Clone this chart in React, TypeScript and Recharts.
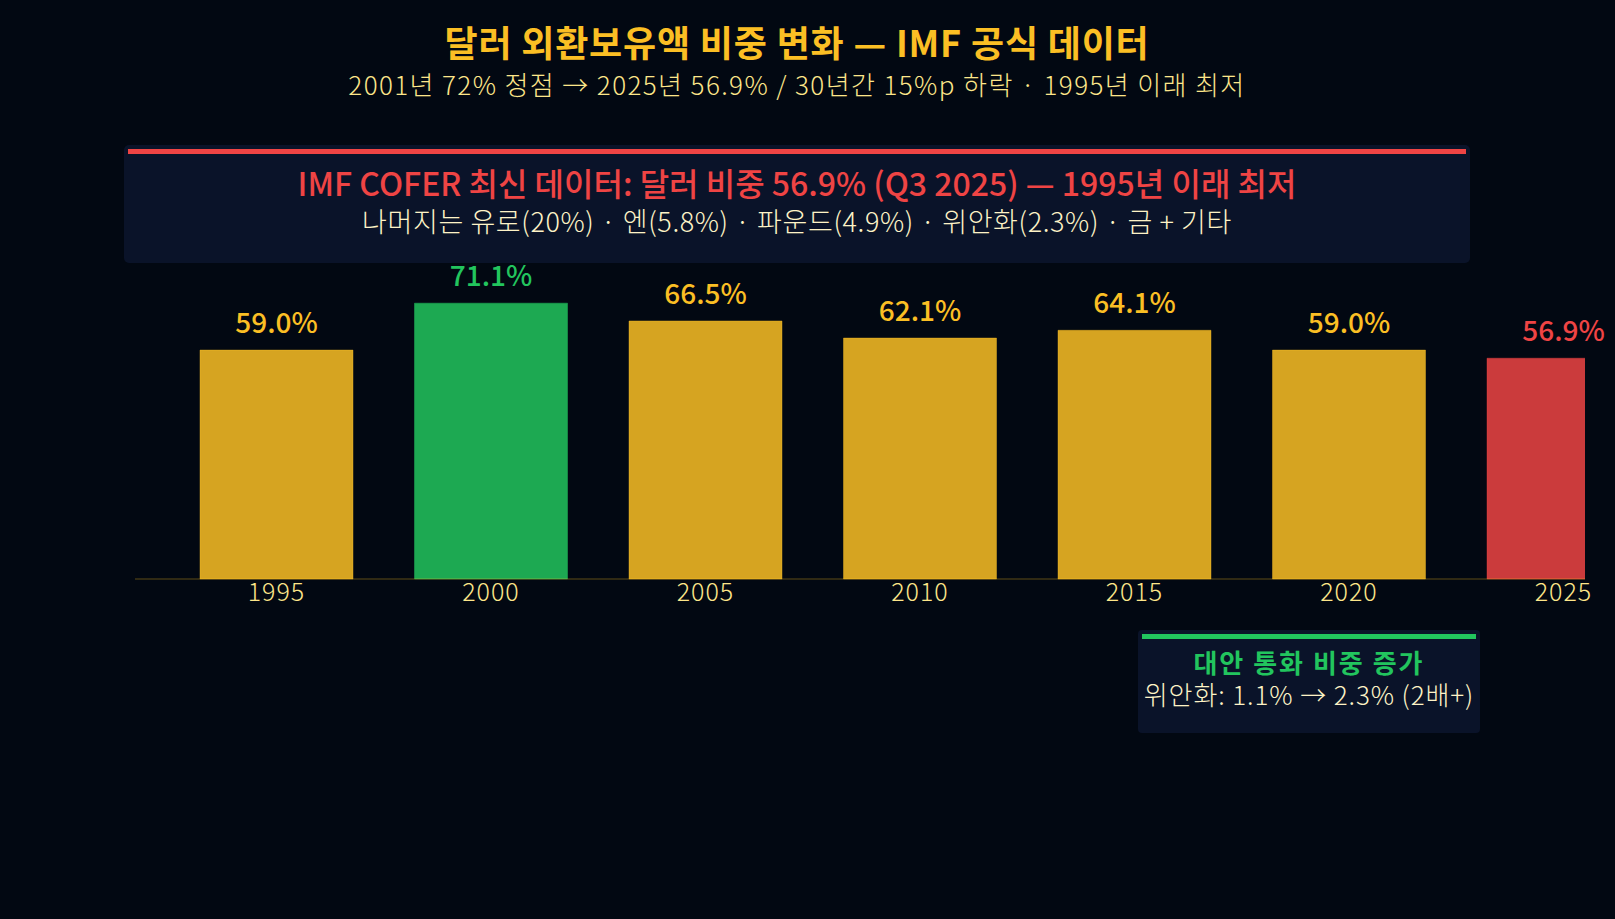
import * as R from "recharts";
import { Bar, BarChart, LabelList, Rectangle, XAxis, YAxis } from "recharts";

const years = ["1995", "2000", "2005", "2010", "2015", "2020", "2025"];
const dollarShare = [59.0, 71.1, 66.5, 62.1, 64.1, 59.0, 56.9];

const TITLE = "달러 외환보유액 비중 변화 — IMF 공식 데이터";
const SUBTITLE = "2001년 72% 정점 → 2025년 56.9% / 30년간 15%p 하락 · 1995년 이래 최저";
const NOTE_TITLE = "IMF COFER 최신 데이터: 달러 비중 56.9% (Q3 2025) — 1995년 이래 최저";
const NOTE_BODY = "나머지는 유로(20%) · 엔(5.8%) · 파운드(4.9%) · 위안화(2.3%) · 금 + 기타";
const SIDE_TITLE = "대안 통화 비중 증가";
const SIDE_BODY = "위안화: 1.1% → 2.3% (2배+)";

const GOLD = "#fbbf24";
const GREEN = "#22c55e";
const RED = "#ef4444";
const CREAM = "#fef3c7";
// colour per bar: peak green, latest red, the rest gold
const barColors = [GOLD, GREEN, GOLD, GOLD, GOLD, GOLD, RED];

const data = years.map((year, i) => ({ year, share: dollarShare[i] }));

const FONT = '"Noto Sans CJK KR", "Noto Sans", sans-serif';

// clip bars to the plot area (the last bar runs off the right edge)
const usePlotAreaHook = (R as any).usePlotArea;
function PlotClip() {
  const area = usePlotAreaHook ? usePlotAreaHook() : undefined;
  if (!area) return null;
  return (
    <defs>
      <clipPath id="plot-clip">
        <rect x={area.x} y={0} width={area.width} height={area.y + area.height + 10} />
      </clipPath>
    </defs>
  );
}

function BarShape(props: any) {
  const c = barColors[props.index];
  return (
    <g clipPath={usePlotAreaHook ? "url(#plot-clip)" : undefined}>
      <Rectangle
        x={props.x}
        y={props.y}
        width={props.width}
        height={props.height}
        fill={c}
        fillOpacity={0.85}
        stroke={c}
        strokeOpacity={0.4}
        strokeWidth={1}
      />
    </g>
  );
}

function ValueLabel(props: any) {
  const { x, y, width, index, value } = props;
  return (
    <text
      x={x + width / 2}
      y={y - 17}
      textAnchor="middle"
      fill={barColors[index]}
      fontSize={28}
      fontWeight={500}
    >
      {`${Number(value).toFixed(1)}%`}
    </text>
  );
}

export default function App() {
  return (
    <div
      style={{
        position: "absolute",
        left: 0,
        top: 0,
        width: 1615,
        height: 919,
        background: "#020812",
        overflow: "hidden",
        fontFamily: FONT,
      }}
    >
      <div style={{ position: "absolute", left: 0, top: 0 }}>
        <BarChart
          width={1615}
          height={640}
          data={data}
          margin={{ top: 191, right: 30, bottom: 31, left: 135 }}
          barCategoryGap={30.75}
        >
          <PlotClip />
          <XAxis
            dataKey="year"
            height={30}
            interval={0}
            padding={{ left: 34.25, right: -85.75 }}
            tickLine={false}
            tickSize={0}
            tickMargin={4}
            axisLine={{ stroke: GOLD, strokeOpacity: 0.25, strokeWidth: 1.5 }}
            tick={{ fill: "#fde68a", fontSize: 25, fontWeight: 300, letterSpacing: 1 }}
          />
          <YAxis hide domain={[0, 100]} />
          <Bar dataKey="share" isAnimationActive={false} shape={BarShape}>
            <LabelList dataKey="share" content={ValueLabel} />
          </Bar>
        </BarChart>
      </div>

      <div
        style={{
          position: "absolute",
          left: 0,
          width: 1594,
          top: 23,
          textAlign: "center",
          color: GOLD,
          fontSize: 36,
          lineHeight: "36px",
          fontWeight: 700,
          letterSpacing: 0.8,
        }}
      >
        {TITLE}
      </div>
      <div
        style={{
          position: "absolute",
          left: 0,
          width: 1594,
          top: 71,
          textAlign: "center",
          color: "#fde68a",
          fontSize: 26,
          lineHeight: "26px",
          fontWeight: 300,
          letterSpacing: 1.4,
        }}
      >
        {SUBTITLE}
      </div>

      <div
        style={{
          position: "absolute",
          left: 124,
          top: 145,
          width: 1346,
          height: 118,
          background: "#0a1329",
          borderRadius: 5,
        }}
      >
        <div style={{ position: "absolute", left: 4, right: 4, top: 4, height: 5, background: RED }} />
        <div
          style={{
            position: "absolute",
            left: 0,
            right: 0,
            top: 21,
            textAlign: "center",
            color: RED,
            fontSize: 32,
            lineHeight: "32px",
            fontWeight: 500,
          }}
        >
          {NOTE_TITLE}
        </div>
        <div
          style={{
            position: "absolute",
            left: 0,
            right: 0,
            top: 62,
            textAlign: "center",
            color: CREAM,
            fontSize: 27,
            lineHeight: "27px",
            fontWeight: 300,
            letterSpacing: 0.6,
          }}
        >
          {NOTE_BODY}
        </div>
      </div>

      <div
        style={{
          position: "absolute",
          left: 1138,
          top: 630,
          width: 342,
          height: 103,
          background: "#0a1329",
          borderRadius: 4,
        }}
      >
        <div style={{ position: "absolute", left: 4, right: 4, top: 4, height: 5, background: GREEN }} />
        <div
          style={{
            position: "absolute",
            left: -20,
            right: -20,
            top: 19,
            textAlign: "center",
            color: GREEN,
            fontSize: 26,
            lineHeight: "26px",
            fontWeight: 700,
            letterSpacing: 2,
            whiteSpace: "nowrap",
          }}
        >
          {SIDE_TITLE}
        </div>
        <div
          style={{
            position: "absolute",
            left: -20,
            right: -20,
            top: 51,
            textAlign: "center",
            color: CREAM,
            fontSize: 26,
            lineHeight: "26px",
            fontWeight: 300,
            letterSpacing: 0.9,
            whiteSpace: "nowrap",
          }}
        >
          {SIDE_BODY}
        </div>
      </div>
    </div>
  );
}
